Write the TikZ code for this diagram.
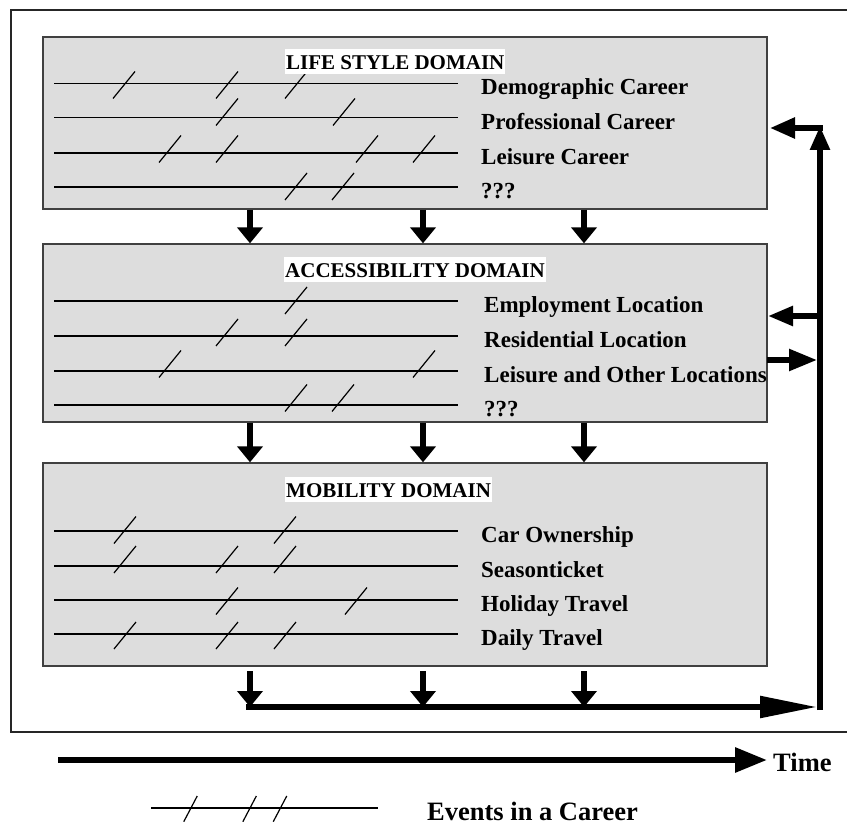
\documentclass[tikz,border=0pt]{standalone}
\usepackage{fontspec}
\setmainfont{Liberation Serif}
\usetikzlibrary{arrows.meta}
\definecolor{boxgray}{RGB}{221,221,221}
\begin{document}
\begin{tikzpicture}[x=1pt,y=-1pt,
  dombox/.style={draw=black!75, line width=1.3pt, fill=boxgray, minimum width=724pt, inner sep=0pt},
  dtitle/.style={fill=white, inner xsep=1pt, inner ysep=0.6pt, text height=20pt, text depth=4pt, anchor=base west, font=\fontsize{21}{21}\selectfont\bfseries},
  lab/.style={anchor=base west, inner sep=0pt, font=\fontsize{23}{23}\selectfont\bfseries},
  big/.style={anchor=base west, inner sep=0pt, font=\fontsize{26.5}{26.5}\selectfont\bfseries},
  cline/.style={line width=1.5pt},
  sl/.style={line width=1.2pt},
  fat/.style={line width=5.5pt},
  dtip/.style={-{Triangle[length=16pt,width=25pt]}},
]
\useasboundingbox (0,0) rectangle (847,824);

% outer frame (right side lies beyond the picture)
\draw[line width=1.2pt, black!85] (870,10) -- (11,10) -- (11,732) -- (870,732);

% domain boxes
\node[dombox, minimum height=172pt] (ls) at (405,123) {};
\node[dombox, minimum height=178pt] (ac) at (405,333) {};
\node[dombox, minimum height=203pt] (mo) at (405,564.5) {};

% career lines
\foreach \y in {83.3,117.7,153,187, 301,336,371,405, 531,566,600,634}
  \draw[cline] (54,\y) -- (458,\y);

% events (slashes) : centre x / centre y
\foreach \x/\y in {
  124/85, 227/85, 296/85,
  227/112, 344/112,
  170/149, 227/149, 367/149, 424/149,
  296/186.5, 343/186.5,
  296/300.5,
  227/332.5, 296/332.5,
  170/364, 424/364,
  296/398, 343/398,
  125/530, 285/530,
  125/559.5, 227/559.5, 285/559.5,
  227/601, 356/601,
  125/635.5, 227/635.5, 285/635.5}
  \draw[sl] (\x-11,\y+13.5) -- (\x+11,\y-13.5);

% titles
\node[dtitle] (lst) at (285,69.5) {LIFE STYLE DOMAIN};
\node[dtitle] (act) at (284,277.3) {ACCESSIBILITY DOMAIN};
\node[dtitle] (mot) at (285,497.5) {MOBILITY DOMAIN};

% labels
\node[lab] (l1) at (481,94.8) {Demographic Career};
\node[lab] (l2) at (481,129.4) {Professional Career};
\node[lab] (l3) at (481,164.8) {Leisure Career};
\node[lab] (l4) at (481,199) {???};
\node[lab] (a1) at (484,312.7) {Employment Location};
\node[lab] (a2) at (484,347.7) {Residential Location};
\node[lab] (a3) at (484,382.7) {Leisure and Other Locations};
\node[lab] (a4) at (484,416.7) {???};
\node[lab] (m1) at (481,542.7) {Car Ownership};
\node[lab] (m2) at (481,577.7) {Seasonticket};
\node[lab] (m3) at (481,611.7) {Holiday Travel};
\node[lab] (m4) at (481,645.7) {Daily Travel};

% downward arrows
\coordinate (c1) at (250,0);
\coordinate (c2) at (423,0);
\coordinate (c3) at (584,0);
\coordinate (bs) at (405,671);
\coordinate (hl) at (246,707);
\coordinate (hr) at (817,707);
\foreach \c in {c1,c2,c3} {
  \draw[fat,dtip] (ls.south -| \c) -- (ac.north -| \c);
  \draw[fat,dtip] (ac.south -| \c) -- (mo.north -| \c);
  \draw[fat,dtip] (bs -| \c) -- (hl -| \c);
}

% time line at the bottom of the frame and the feedback line
\draw[fat,-{Triangle[length=57pt,width=21pt]}] (hl) -- (hr);
\coordinate (vb) at (820,710);
\coordinate (vt) at (820,126);
\draw[fat,-{Triangle[length=24pt,width=19pt]}] (vb) -- (vt);

\coordinate (f1) at (822.5,128);
\coordinate (f1e) at (770,128);
\draw[fat,-{Triangle[length=25pt,width=20pt]}] (f1) -- (f1e);
\coordinate (f2) at (820,316);
\coordinate (f2e) at (768,316);
\draw[fat,-{Triangle[length=25pt,width=19pt]}] (f2) -- (f2e);
\coordinate (f3) at (767,360);
\coordinate (f3e) at (817,360);
\draw[fat,-{Triangle[length=28pt,width=21pt]}] (f3) -- (f3e);

% time axis
\coordinate (ts) at (58,760);
\coordinate (te) at (767,760);
\draw[line width=6pt,-{Triangle[length=32pt,width=24pt]}] (ts) -- (te);
\node[big] (tm) at (773,771) {Time};

% legend
\draw[cline] (151,808) -- (378,808);
\foreach \x in {190.5,249.6,280}
  \draw[sl] (\x-6.75,821.7) -- (\x+6.75,796);
\node[big] (ev) at (427,820) {Events in a Career};
\end{tikzpicture}
\end{document}
